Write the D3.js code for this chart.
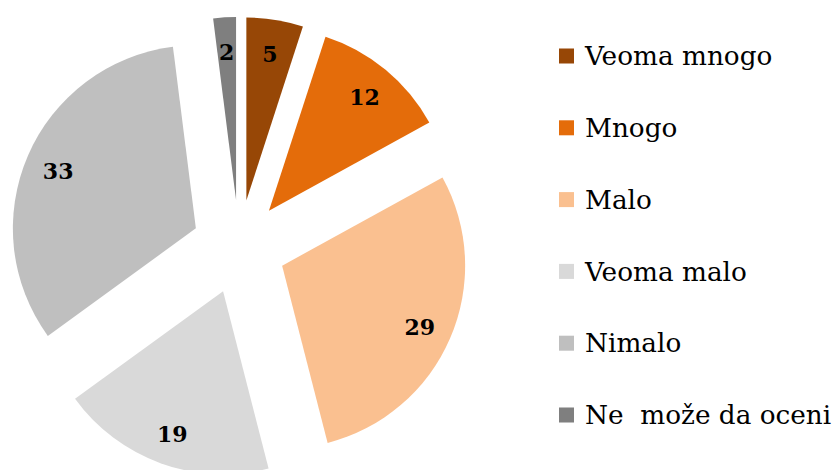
<!DOCTYPE html>
<html>
<head>
<meta charset="utf-8">
<script src="https://cdn.jsdelivr.net/npm/d3@7"></script>
<style>
  body { margin: 0; background: #fff; }
  svg { display: block; }
</style>
</head>
<body>
<svg id="chart" width="835" height="470"></svg>
<script>
const categories = ["Veoma mnogo", "Mnogo", "Malo", "Veoma malo", "Nimalo", "Ne  može da oceni"];
const values = [5, 12, 29, 19, 33, 2];
const colors = ["#974706", "#e46c0a", "#fac090", "#d9d9d9", "#bfbfbf", "#7f7f7f"];

const width = 835, height = 470;
const cx = 239, cy = 247;
const radius = 183;
// how far each slice is pulled out from the middle
const explode = 47;

const svg = d3.select("#chart");

const data = categories.map((c, i) => ({ name: c, value: values[i], color: colors[i] }));

const pie = d3.pie().sort(null).value(d => d.value);
const arc = d3.arc().innerRadius(0).outerRadius(radius);
const labelArc = d3.arc().innerRadius(radius * 0.82).outerRadius(radius * 0.82);

const slices = svg.append("g")
  .attr("transform", "translate(" + cx + "," + cy + ")")
  .selectAll("g")
  .data(pie(data))
  .enter().append("g")
  .attr("transform", d => {
    const a = (d.startAngle + d.endAngle) / 2;
    return "translate(" + (explode * Math.sin(a)) + "," + (-explode * Math.cos(a)) + ")";
  });

slices.append("path")
  .attr("d", arc)
  .attr("fill", d => d.data.color);

slices.append("text")
  .attr("transform", d => "translate(" + labelArc.centroid(d) + ")")
  .attr("text-anchor", "middle")
  .attr("dy", "0.45em")
  .style("font-family", "'DejaVu Serif', serif")
  .style("font-weight", "bold")
  .style("font-size", "22px")
  .style("fill", "#000")
  .text(d => d.data.value);

// legend
const legend = svg.append("g").attr("transform", "translate(559,56)");
const rowGap = 71.8;

legend.selectAll("rect")
  .data(data)
  .enter().append("rect")
  .attr("x", 0)
  .attr("y", (d, i) => i * rowGap - 7.5)
  .attr("width", 15)
  .attr("height", 15)
  .attr("fill", d => d.color);

legend.selectAll("text")
  .data(data)
  .enter().append("text")
  .attr("x", 26)
  .attr("y", (d, i) => i * rowGap)
  .attr("dy", "0.35em")
  .style("font-family", "'DejaVu Serif', serif")
  .style("font-size", "26.3px")
  .style("white-space", "pre")
  .attr("xml:space", "preserve")
  .style("fill", "#000")
  .text(d => d.name);
</script>
</body>
</html>
